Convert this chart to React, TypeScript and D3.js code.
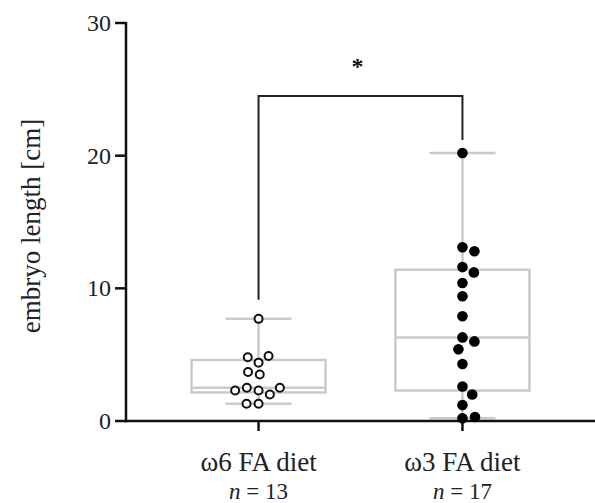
import React from 'react';
import { scaleLinear, scalePoint, ascending, max, min } from 'd3';

const categories = ['ω6 FA diet', 'ω3 FA diet'];
const sampleSizes = [13, 17];
const omega6 = [7.7, 4.4, 4.9, 4.8, 3.5, 3.7, 2.3, 2.0, 2.5, 2.5, 2.3, 1.3, 1.3];
const omega3 = [20.2, 13.1, 12.8, 11.6, 11.2, 10.4, 9.4, 7.9, 6.3, 6.0, 5.4, 4.3, 2.6, 2.0, 1.2, 0.2, 0.3];
const yTicks = [0, 10, 20, 30];

const width = 595;
const height = 503;
const margin = { top: 23, right: 0, bottom: 82, left: 126 };
const innerBottom = height - margin.bottom;

const FONT = "'Liberation Serif', 'Times New Roman', serif";
const BOX = '#cbcbcb';

// prism style quartiles, (n+1)p
const quant = (sorted: number[], p: number) => {
  const pos = (sorted.length + 1) * p - 1;
  const lo = Math.floor(pos);
  const hi = Math.ceil(pos);
  return sorted[lo] + (sorted[hi] - sorted[lo]) * (pos - lo);
};

// simple beeswarm, values placed one by one, closest free x offset
const swarm = (ys: number[], r: number) => {
  const placed: { x: number; y: number }[] = [];
  return ys.map(y => {
    const cands = [0];
    placed.forEach(p => {
      const dy = Math.abs(p.y - y);
      if (dy < 2 * r) {
        const dx = Math.sqrt(4 * r * r - dy * dy);
        cands.push(p.x + dx, p.x - dx);
      }
    });
    cands.sort((a, b) => Math.abs(a) - Math.abs(b));
    const ok = cands.find(c =>
      placed.every(p => (p.x - c) ** 2 + (p.y - y) ** 2 >= 4 * r * r - 0.01)
    );
    const x = ok === undefined ? 0 : ok;
    placed.push({ x, y });
    return x;
  });
};

const App = () => {
  const y = scaleLinear().domain([0, 30]).range([innerBottom, margin.top]);
  const x = scalePoint<string>()
    .domain(categories)
    .range([margin.left, width - margin.right])
    .padding(0.65);

  const groups = [omega6, omega3].map((vals, i) => {
    const s = vals.slice().sort(ascending);
    const cx = x(categories[i]) as number;
    const r = i === 1 ? 5.3 : 5;
    const pys = vals.map(v => y(v));
    const offs = swarm(pys, r + 1);
    return {
      cx,
      filled: i === 1,
      q1: quant(s, 0.25),
      med: quant(s, 0.5),
      q3: quant(s, 0.75),
      lo: min(s) as number,
      hi: max(s) as number,
      dots: pys.map((py, j) => ({ x: cx + offs[j], y: py })),
      r
    };
  });

  const boxW = 134;
  const capW = 66;
  const bracketY = y(24.5);
  const g0 = groups[0];
  const g1 = groups[1];

  return (
    <svg
      width={width}
      height={height}
      style={{ position: 'absolute', left: 0, top: 0, background: '#fff', fontFamily: FONT }}
    >
      {/* boxes */}
      {groups.map((g, i) => (
        <g key={i} stroke={BOX} strokeWidth={2.5} fill="none">
          <line x1={g.cx} x2={g.cx} y1={y(g.hi)} y2={y(g.q3)} />
          <line x1={g.cx} x2={g.cx} y1={y(g.q1)} y2={y(g.lo)} />
          <line x1={g.cx - capW / 2} x2={g.cx + capW / 2} y1={y(g.hi)} y2={y(g.hi)} />
          <line x1={g.cx - capW / 2} x2={g.cx + capW / 2} y1={y(g.lo)} y2={y(g.lo)} />
          <rect x={g.cx - boxW / 2} y={y(g.q3)} width={boxW} height={y(g.q1) - y(g.q3)} />
          <line x1={g.cx - boxW / 2} x2={g.cx + boxW / 2} y1={y(g.med)} y2={y(g.med)} />
        </g>
      ))}

      {/* axes */}
      <g stroke="#111" strokeWidth={2.5}>
        <line x1={margin.left} x2={margin.left} y1={y(30) - 1} y2={innerBottom + 1.25} />
        <line x1={margin.left - 1.25} x2={width} y1={innerBottom} y2={innerBottom} />
        {yTicks.map(t => (
          <line key={t} x1={margin.left - 11} x2={margin.left} y1={y(t)} y2={y(t)} />
        ))}
        {categories.map(c => (
          <line key={c} x1={x(c)} x2={x(c)} y1={innerBottom} y2={innerBottom + 10} />
        ))}
      </g>
      {yTicks.map(t => (
        <text
          key={t}
          x={margin.left - 15}
          y={y(t)}
          dy="0.34em"
          textAnchor="end"
          fontSize={24}
          fill="#222"
        >
          {t}
        </text>
      ))}
      <text
        transform={`translate(40, ${(y(0) + y(30)) / 2 + 4}) rotate(-90)`}
        textAnchor="middle"
        fontSize={27}
        fill="#222"
      >
        embryo length [cm]
      </text>
      {categories.map((c, i) => (
        <g key={c}>
          <text x={x(c)} y={471} textAnchor="middle" fontSize={27} fill="#222">
            {c}
          </text>
          <text x={x(c)} y={499} textAnchor="middle" fontSize={23} fill="#222">
            <tspan fontStyle="italic">n</tspan> = {sampleSizes[i]}
          </text>
        </g>
      ))}

      {/* dots */}
      {groups.map((g, i) =>
        g.dots.map((d, j) => (
          <circle
            key={`${i}-${j}`}
            cx={d.x}
            cy={d.y}
            r={g.filled ? g.r : g.r - 1}
            fill={g.filled ? '#000' : '#fff'}
            stroke="#111"
            strokeWidth={g.filled ? 0 : 2}
          />
        ))
      )}

      {/* significance bracket */}
      <path
        d={`M${g0.cx},${y(g0.hi) - 19}V${bracketY}H${g1.cx}V${y(g1.hi) - 13}`}
        fill="none"
        stroke="#222"
        strokeWidth={2}
      />
      <text x={(g0.cx + g1.cx) / 2 - 3} y={y(27.4)} dy="0.7em" textAnchor="middle" fontSize={24} fontWeight="bold" fill="#111">
        *
      </text>
    </svg>
  );
};

export default App;
